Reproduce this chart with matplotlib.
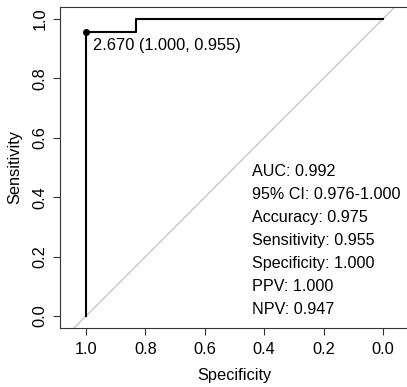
import numpy as np
import matplotlib
matplotlib.use('Agg')
import matplotlib.pyplot as plt

plt.rcParams['font.family'] = ['Liberation Sans', 'DejaVu Sans']

# ROC curve
specificity = [1.0, 1.0, 0.833, 0.833, 0.0]
sensitivity = [0.0, 0.955, 0.955, 1.0, 1.0]

best_spec = 1.000
best_sens = 0.955
best_label = "2.670 (1.000, 0.955)"

stats_lines = ["AUC: 0.992", "95% CI: 0.976-1.000", "Accuracy: 0.975",
               "Sensitivity: 0.955", "Specificity: 1.000", "PPV: 1.000", "NPV: 0.947"]

ticks = [1.0, 0.8, 0.6, 0.4, 0.2, 0.0]
yticks = [0.0, 0.2, 0.4, 0.6, 0.8, 1.0]

W, H = 407, 387
fig = plt.figure(figsize=(W / 100, H / 100), dpi=100)
ax = fig.add_axes([60 / W, 59 / H, 349 / W, 321 / H])

ax.plot([1.1, -0.1], [-0.1, 1.1], color='#c8c8c8', lw=1.0, zorder=1)
ax.plot(specificity, sensitivity, color='black', lw=1.5, zorder=2)
ax.plot([best_spec], [best_sens], 'o', color='black', ms=4, zorder=3)
ax.text(best_spec - 0.024, best_sens - 0.043, best_label, fontsize=11.8,
        ha='left', va='center')

y0 = 0.487
for i, s in enumerate(stats_lines):
    ax.text(0.441, y0 - i * 0.0775, s, fontsize=11.6, ha='left', va='center')

ax.set_xlim(1.0875, -0.0875)
ax.set_ylim(-0.04, 1.04)
ax.set_xticks(ticks)
ax.set_xticklabels(["%.1f" % t for t in ticks])
ax.set_yticks(yticks)
ax.set_yticklabels(["%.1f" % t for t in yticks], rotation=90, va='center')
ax.tick_params(direction='out', length=5, width=0.8, color='#333333',
               labelsize=11.8, pad=5)
ax.tick_params(axis='y', pad=4)
for sp in ax.spines.values():
    sp.set_color('#333333')
    sp.set_linewidth(0.8)

ax.set_xlabel('Specificity', fontsize=11.8, labelpad=8)
ax.set_ylabel('Sensitivity', fontsize=11.8, labelpad=7)

fig.savefig('out.png', dpi=100)
